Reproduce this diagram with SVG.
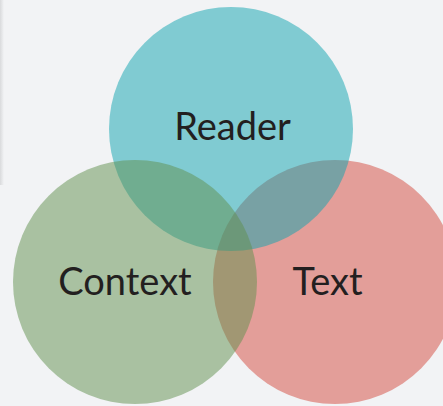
<svg xmlns="http://www.w3.org/2000/svg" width="443" height="406" viewBox="0 0 443 406">
<style>
.c{opacity:0.5}
.t{font-family:Lato,"Open Sans",sans-serif;font-size:38px;fill:#231f20;text-anchor:middle}
</style>
<defs>
<linearGradient id="sh" x1="0" y1="0" x2="1" y2="0">
<stop offset="0" stop-color="#d9dadc"/>
<stop offset="1" stop-color="#f2f3f5"/>
</linearGradient>
</defs>
<rect width="443" height="406" fill="#f2f3f5"/>
<rect x="0" y="0" width="4" height="185" fill="url(#sh)"/>
<g id="text-node"><circle class="c" cx="335" cy="282" r="122" fill="#d4493d"/></g>
<g id="reader-node"><circle class="c" cx="231" cy="129" r="122" fill="#0ea3af"/></g>
<g id="context-node"><circle class="c" cx="135" cy="282" r="122" fill="#608f4d"/></g>
<g id="labels">
<text class="t" x="232.5" y="140">Reader</text>
<text class="t" x="125" y="295">Context</text>
<text class="t" x="327.5" y="295">Text</text>
</g>
<g id="connectors"/>
</svg>
